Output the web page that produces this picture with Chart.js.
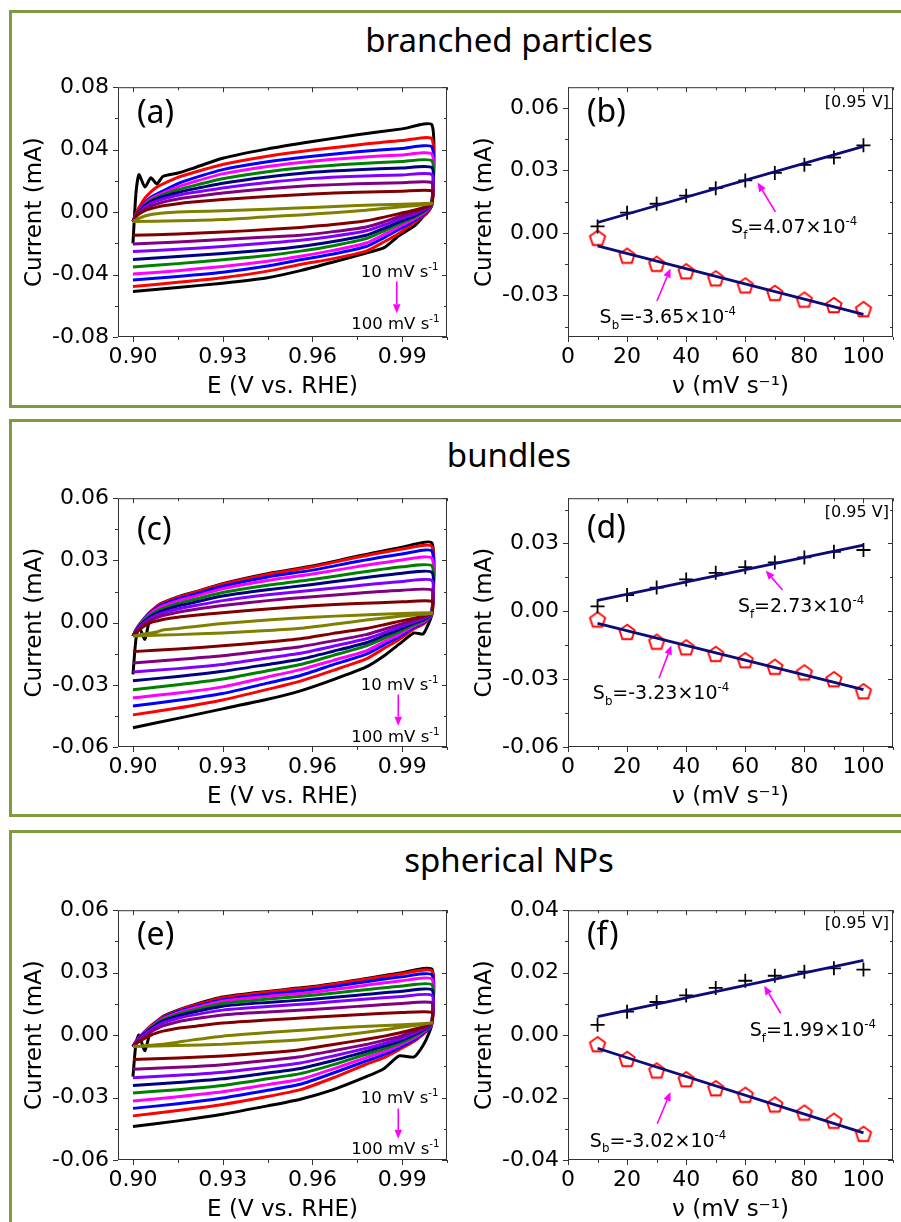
<!DOCTYPE html>
<html>
<head>
<meta charset="utf-8">
<script src="https://cdn.jsdelivr.net/npm/chart.js@4.4.0/dist/chart.umd.min.js"></script>
<style>
  html, body { margin: 0; padding: 0; background: #fff; width: 901px; height: 1222px; overflow: hidden; position: relative; }
  .box { position: absolute; border: 3px solid #7f9b3f; box-sizing: border-box; }
  .ttl { position: absolute; left: 309px; width: 400px; text-align: center; font-family: "Comic Sans MS", "Noto Sans", sans-serif; font-size: 33px; line-height: 33px; color: #000; }
  canvas { position: absolute; }
</style>
</head>
<body>
<div class="box" style="left:9px;top:10px;width:905px;height:398px"></div>
<div class="box" style="left:9px;top:419px;width:905px;height:398px"></div>
<div class="box" style="left:9px;top:830px;width:905px;height:420px"></div>
<div class="ttl" style="top:23px">branched particles</div>
<div class="ttl" style="top:438px">bundles</div>
<div class="ttl" style="top:843px">spherical NPs</div>
<canvas id="ca" width="439" height="336" style="left:13px;top:65px"></canvas>
<canvas id="cb" width="440" height="336" style="left:462px;top:65px"></canvas>
<canvas id="cc" width="439" height="335" style="left:13px;top:476px"></canvas>
<canvas id="cd" width="440" height="335" style="left:462px;top:476px"></canvas>
<canvas id="ce" width="439" height="336" style="left:13px;top:888px"></canvas>
<canvas id="cf" width="440" height="336" style="left:462px;top:888px"></canvas>
<script>
(() => {
  // ---- data (currents in mA) ----
  const rates = [10, 20, 30, 40, 50, 60, 70, 80, 90, 100];
  const rateColors = ["#808000", "#800000", "#800080", "#8000ff", "#000080", "#008000", "#ff00ff", "#0000ff", "#ff0000", "#000000"];

  const anodicE = [0.900, 0.901, 0.902, 0.904, 0.906, 0.908, 0.910, 0.915, 0.920, 0.930, 0.945, 0.960, 0.975, 0.990, 1.000];
  const cathodicE = [1.000, 0.999, 0.997, 0.994, 0.989, 0.984, 0.978, 0.967, 0.956, 0.945, 0.930, 0.915, 0.900];

  const aAnodic = [
    [-0.0060, -0.0050, -0.0040, -0.0025, -0.0015, -0.0010, -0.0006, 0.0000, 0.0004, 0.0008, 0.0018, 0.0030, 0.0042, 0.0051, 0.0056],
    [-0.0060, -0.0030, -0.0012, 0.0010, 0.0022, 0.0032, 0.0040, 0.0054, 0.0064, 0.0080, 0.0100, 0.0116, 0.0127, 0.0134, 0.0136],
    [-0.0060, -0.0028, -0.0008, 0.0020, 0.0040, 0.0053, 0.0064, 0.0084, 0.0098, 0.0123, 0.0150, 0.0170, 0.0181, 0.0188, 0.0188],
    [-0.0060, -0.0026, -0.0004, 0.0032, 0.0056, 0.0072, 0.0084, 0.0108, 0.0125, 0.0155, 0.0190, 0.0216, 0.0230, 0.0238, 0.0240],
    [-0.0060, -0.0024, 0.0000, 0.0040, 0.0068, 0.0085, 0.0098, 0.0126, 0.0147, 0.0185, 0.0225, 0.0255, 0.0272, 0.0282, 0.0284],
    [-0.0060, -0.0022, 0.0003, 0.0046, 0.0076, 0.0095, 0.0110, 0.0143, 0.0168, 0.0213, 0.0258, 0.0290, 0.0310, 0.0324, 0.0328],
    [-0.0060, -0.0020, 0.0006, 0.0052, 0.0085, 0.0105, 0.0122, 0.0162, 0.0192, 0.0245, 0.0292, 0.0326, 0.0350, 0.0366, 0.0370],
    [-0.0060, -0.0018, 0.0009, 0.0060, 0.0095, 0.0116, 0.0135, 0.0182, 0.0216, 0.0272, 0.0322, 0.0358, 0.0386, 0.0408, 0.0416],
    [-0.0060, -0.0010, 0.0030, 0.0090, 0.0130, 0.0160, 0.0180, 0.0222, 0.0252, 0.0305, 0.0358, 0.0398, 0.0430, 0.0458, 0.0468],
    [-0.0200, 0.0120, 0.0240, 0.0160, 0.0220, 0.0180, 0.0228, 0.0250, 0.0280, 0.0345, 0.0405, 0.0452, 0.0495, 0.0533, 0.0558],
  ];
  const aCathodic = [
    [0.0055, 0.0052, 0.0047, 0.0041, 0.0033, 0.0024, 0.0012, -0.0004, -0.0018, -0.0030, -0.0048, -0.0056, -0.0061],
    [0.0055, 0.0042, 0.0028, 0.0012, -0.0010, -0.0032, -0.0055, -0.0080, -0.0098, -0.0112, -0.0128, -0.0140, -0.0149],
    [0.0055, 0.0038, 0.0020, -0.0002, -0.0028, -0.0062, -0.0095, -0.0125, -0.0148, -0.0160, -0.0175, -0.0192, -0.0205],
    [0.0055, 0.0034, 0.0012, -0.0014, -0.0045, -0.0082, -0.0120, -0.0155, -0.0180, -0.0198, -0.0220, -0.0238, -0.0253],
    [0.0055, 0.0030, 0.0005, -0.0025, -0.0062, -0.0103, -0.0148, -0.0188, -0.0220, -0.0242, -0.0265, -0.0285, -0.0303],
    [0.0055, 0.0026, -0.0002, -0.0034, -0.0075, -0.0120, -0.0170, -0.0215, -0.0250, -0.0278, -0.0305, -0.0330, -0.0351],
    [0.0055, 0.0022, -0.0010, -0.0044, -0.0092, -0.0142, -0.0198, -0.0245, -0.0283, -0.0315, -0.0348, -0.0375, -0.0397],
    [0.0055, 0.0018, -0.0018, -0.0055, -0.0110, -0.0163, -0.0220, -0.0268, -0.0305, -0.0345, -0.0385, -0.0412, -0.0435],
    [0.0055, 0.0014, -0.0026, -0.0068, -0.0135, -0.0190, -0.0250, -0.0298, -0.0335, -0.0378, -0.0420, -0.0450, -0.0477],
    [0.0050, 0.0010, -0.0030, -0.0090, -0.0150, -0.0228, -0.0262, -0.0320, -0.0375, -0.0420, -0.0455, -0.0483, -0.0508],
  ];

  const cAnodic = [
    [-0.0065, -0.0062, -0.0060, -0.0055, -0.0050, -0.0045, -0.0036, -0.0028, -0.0020, -0.0004, 0.0012, 0.0026, 0.0036, 0.0044, 0.0047],
    [-0.0065, -0.0050, -0.0036, -0.0015, 0.0000, 0.0008, 0.0015, 0.0026, 0.0034, 0.0048, 0.0066, 0.0081, 0.0092, 0.0100, 0.0102],
    [-0.0065, -0.0045, -0.0030, -0.0005, 0.0012, 0.0024, 0.0034, 0.0050, 0.0062, 0.0082, 0.0106, 0.0125, 0.0142, 0.0156, 0.0156],
    [-0.0065, -0.0042, -0.0025, 0.0002, 0.0022, 0.0036, 0.0047, 0.0066, 0.0080, 0.0106, 0.0134, 0.0156, 0.0178, 0.0198, 0.0203],
    [-0.0065, -0.0040, -0.0021, 0.0008, 0.0030, 0.0046, 0.0058, 0.0080, 0.0096, 0.0128, 0.0158, 0.0184, 0.0212, 0.0238, 0.0242],
    [-0.0065, -0.0038, -0.0018, 0.0013, 0.0038, 0.0055, 0.0068, 0.0092, 0.0110, 0.0145, 0.0180, 0.0208, 0.0240, 0.0269, 0.0273],
    [-0.0065, -0.0037, -0.0016, 0.0018, 0.0045, 0.0065, 0.0080, 0.0105, 0.0124, 0.0163, 0.0203, 0.0234, 0.0270, 0.0302, 0.0310],
    [-0.0065, -0.0036, -0.0014, 0.0022, 0.0050, 0.0072, 0.0088, 0.0114, 0.0134, 0.0175, 0.0220, 0.0253, 0.0295, 0.0331, 0.0344],
    [-0.0065, -0.0035, -0.0012, 0.0025, 0.0055, 0.0078, 0.0095, 0.0122, 0.0143, 0.0185, 0.0232, 0.0269, 0.0315, 0.0355, 0.0367],
    [-0.0250, -0.0080, -0.0020, -0.0080, 0.0045, 0.0078, 0.0096, 0.0124, 0.0145, 0.0188, 0.0236, 0.0273, 0.0320, 0.0364, 0.0383],
  ];
  const cCathodic = [
    [0.0045, 0.0043, 0.0040, 0.0037, 0.0030, 0.0022, 0.0012, -0.0008, -0.0027, -0.0038, -0.0050, -0.0058, -0.0065],
    [0.0045, 0.0040, 0.0032, 0.0021, 0.0006, -0.0010, -0.0028, -0.0052, -0.0078, -0.0094, -0.0112, -0.0127, -0.0140],
    [0.0045, 0.0036, 0.0025, 0.0012, -0.0010, -0.0032, -0.0058, -0.0088, -0.0116, -0.0135, -0.0160, -0.0178, -0.0195],
    [0.0045, 0.0033, 0.0019, 0.0004, -0.0022, -0.0048, -0.0078, -0.0114, -0.0148, -0.0171, -0.0202, -0.0222, -0.0238],
    [0.0045, 0.0030, 0.0013, -0.0003, -0.0034, -0.0062, -0.0097, -0.0138, -0.0177, -0.0202, -0.0235, -0.0260, -0.0280],
    [0.0045, 0.0027, 0.0008, -0.0010, -0.0045, -0.0076, -0.0112, -0.0158, -0.0202, -0.0232, -0.0272, -0.0300, -0.0324],
    [0.0045, 0.0024, 0.0003, -0.0016, -0.0057, -0.0092, -0.0136, -0.0182, -0.0227, -0.0262, -0.0310, -0.0340, -0.0363],
    [0.0045, 0.0021, -0.0002, -0.0022, -0.0068, -0.0106, -0.0152, -0.0203, -0.0255, -0.0292, -0.0342, -0.0375, -0.0402],
    [0.0045, 0.0018, -0.0008, -0.0030, -0.0081, -0.0124, -0.0175, -0.0230, -0.0282, -0.0322, -0.0373, -0.0412, -0.0445],
    [0.0045, 0.0000, -0.0055, -0.0050, -0.0104, -0.0160, -0.0214, -0.0275, -0.0329, -0.0370, -0.0416, -0.0462, -0.0507],
  ];

  const eAnodic = [
    [-0.0055, -0.0054, -0.0053, -0.0051, -0.0049, -0.0046, -0.0044, -0.0034, -0.0023, -0.0005, 0.0012, 0.0027, 0.0040, 0.0050, 0.0058],
    [-0.0055, -0.0042, -0.0032, -0.0015, 0.0000, 0.0011, 0.0019, 0.0033, 0.0041, 0.0058, 0.0072, 0.0086, 0.0098, 0.0108, 0.0109],
    [-0.0055, -0.0038, -0.0026, -0.0004, 0.0015, 0.0031, 0.0044, 0.0064, 0.0077, 0.0097, 0.0111, 0.0123, 0.0138, 0.0152, 0.0155],
    [-0.0055, -0.0036, -0.0022, 0.0003, 0.0025, 0.0043, 0.0058, 0.0081, 0.0096, 0.0120, 0.0137, 0.0152, 0.0170, 0.0186, 0.0191],
    [-0.0055, -0.0034, -0.0019, 0.0008, 0.0031, 0.0051, 0.0067, 0.0092, 0.0110, 0.0139, 0.0157, 0.0172, 0.0192, 0.0211, 0.0217],
    [-0.0055, -0.0033, -0.0017, 0.0011, 0.0036, 0.0057, 0.0074, 0.0101, 0.0120, 0.0152, 0.0173, 0.0191, 0.0214, 0.0236, 0.0242],
    [-0.0055, -0.0032, -0.0015, 0.0013, 0.0039, 0.0061, 0.0079, 0.0107, 0.0128, 0.0163, 0.0186, 0.0206, 0.0234, 0.0261, 0.0269],
    [-0.0055, -0.0031, -0.0014, 0.0015, 0.0041, 0.0064, 0.0082, 0.0112, 0.0134, 0.0170, 0.0196, 0.0219, 0.0250, 0.0280, 0.0289],
    [-0.0055, -0.0030, -0.0012, 0.0018, 0.0045, 0.0068, 0.0086, 0.0118, 0.0141, 0.0180, 0.0207, 0.0230, 0.0262, 0.0295, 0.0308],
    [-0.0200, -0.0040, 0.0000, -0.0075, 0.0030, 0.0062, 0.0089, 0.0120, 0.0144, 0.0183, 0.0210, 0.0233, 0.0265, 0.0300, 0.0316],
  ];
  const eCathodic = [
    [0.0060, 0.0057, 0.0052, 0.0046, 0.0036, 0.0026, 0.0014, -0.0005, -0.0022, -0.0032, -0.0044, -0.0050, -0.0055],
    [0.0060, 0.0050, 0.0040, 0.0028, 0.0010, -0.0005, -0.0020, -0.0045, -0.0070, -0.0085, -0.0100, -0.0110, -0.0117],
    [0.0060, 0.0047, 0.0034, 0.0018, -0.0008, -0.0025, -0.0045, -0.0075, -0.0104, -0.0122, -0.0142, -0.0155, -0.0164],
    [0.0060, 0.0044, 0.0029, 0.0010, -0.0020, -0.0040, -0.0063, -0.0100, -0.0134, -0.0154, -0.0178, -0.0193, -0.0205],
    [0.0060, 0.0041, 0.0024, 0.0002, -0.0030, -0.0053, -0.0078, -0.0122, -0.0160, -0.0182, -0.0210, -0.0228, -0.0242],
    [0.0060, 0.0038, 0.0019, -0.0006, -0.0040, -0.0066, -0.0092, -0.0142, -0.0185, -0.0210, -0.0242, -0.0262, -0.0278],
    [0.0060, 0.0035, 0.0014, -0.0014, -0.0050, -0.0080, -0.0108, -0.0162, -0.0212, -0.0238, -0.0272, -0.0296, -0.0317],
    [0.0060, 0.0032, 0.0009, -0.0022, -0.0060, -0.0093, -0.0124, -0.0182, -0.0236, -0.0265, -0.0302, -0.0330, -0.0352],
    [0.0060, 0.0029, 0.0004, -0.0030, -0.0070, -0.0108, -0.0140, -0.0205, -0.0262, -0.0295, -0.0333, -0.0362, -0.0388],
    [0.0060, 0.0010, -0.0050, -0.0105, -0.0100, -0.0160, -0.0200, -0.0262, -0.0308, -0.0340, -0.0380, -0.0412, -0.0439],
  ];

  const nu = [10, 20, 30, 40, 50, 60, 70, 80, 90, 100];
  const fitNu = [10, 100];
  const bForward = [0.0031, 0.0097, 0.0140, 0.0179, 0.0215, 0.0252, 0.0288, 0.0327, 0.0362, 0.0421];
  const bBackward = [-0.0023, -0.0109, -0.0148, -0.0184, -0.0218, -0.0252, -0.0288, -0.0320, -0.0346, -0.0366];
  const bFitF = [0.0050, 0.0416];
  const bFitB = [-0.0062, -0.0391];
  const dForward = [0.0022, 0.0072, 0.0105, 0.0141, 0.0170, 0.0195, 0.0216, 0.0238, 0.0263, 0.0271];
  const dBackward = [-0.0036, -0.0091, -0.0134, -0.0159, -0.0188, -0.0216, -0.0245, -0.0270, -0.0300, -0.0353];
  const dFitF = [0.0048, 0.0293];
  const dFitB = [-0.0053, -0.0346];
  const fForward = [0.0033, 0.0075, 0.0106, 0.0127, 0.0151, 0.0174, 0.0190, 0.0203, 0.0214, 0.0210];
  const fBackward = [-0.0029, -0.0076, -0.0113, -0.0141, -0.0170, -0.0191, -0.0222, -0.0248, -0.0274, -0.0316];
  const fFitF = [0.0059, 0.0239];
  const fFitB = [-0.0042, -0.0313];

  const cvTicksX = [0.90, 0.93, 0.96, 0.99];
  const nuTicks = [0, 20, 40, 60, 80, 100];
  const aTicksY = [-0.08, -0.04, 0.00, 0.04, 0.08];
  const bTicksY = [-0.03, 0.00, 0.03, 0.06];
  const cTicksY = [-0.06, -0.03, 0.00, 0.03, 0.06];
  const dTicksY = [-0.06, -0.03, 0.00, 0.03];
  const eTicksY = [-0.06, -0.03, 0.00, 0.03, 0.06];
  const fTicksY = [-0.04, -0.02, 0.00, 0.02, 0.04];

  // ---- drawing helpers ----
  const FONT = '"DejaVu Sans", "Liberation Sans", sans-serif';
  const HAND = '"Comic Sans MS", "Noto Sans", sans-serif';
  const MAGENTA = "#ff00ff";

  const pentagon = document.createElement("canvas");
  pentagon.width = 20;
  pentagon.height = 20;
  (() => {
    const g = pentagon.getContext("2d");
    g.strokeStyle = "#ff0000";
    g.lineWidth = 1.9;
    g.beginPath();
    for (let k = 0; k < 5; k++) {
      const t = -Math.PI / 2 + (k * 2 * Math.PI) / 5;
      const px = 10 + 8 * Math.cos(t), py = 10.8 + 8 * Math.sin(t);
      k ? g.lineTo(px, py) : g.moveTo(px, py);
    }
    g.closePath();
    g.stroke();
  })();

  function richParts(s) {
    const parts = [];
    const re = /([_^])\{([^}]*)\}/g;
    let last = 0, m;
    while ((m = re.exec(s))) {
      if (m.index > last) parts.push({ t: s.slice(last, m.index), k: 0 });
      parts.push({ t: m[2], k: m[1] === "_" ? -1 : 1 });
      last = re.lastIndex;
    }
    if (last < s.length) parts.push({ t: s.slice(last), k: 0 });
    return parts;
  }

  function drawRich(ctx, s, x, y, size) {
    ctx.textAlign = "left";
    ctx.textBaseline = "alphabetic";
    for (const p of richParts(s)) {
      const fs = p.k ? size * 0.62 : size;
      ctx.font = `${fs}px ${FONT}`;
      const dy = p.k === 1 ? -size * 0.42 : p.k === -1 ? size * 0.3 : 0;
      ctx.fillText(p.t, x, y + dy);
      x += ctx.measureText(p.t).width;
    }
  }

  function drawArrow(ctx, x1, y1, x2, y2) {
    const ang = Math.atan2(y2 - y1, x2 - x1);
    const len = 9, hw = 3.8;
    const bx = x2 - len * Math.cos(ang), by = y2 - len * Math.sin(ang);
    ctx.strokeStyle = MAGENTA;
    ctx.fillStyle = MAGENTA;
    ctx.lineWidth = 1.6;
    ctx.beginPath();
    ctx.moveTo(x1, y1);
    ctx.lineTo(bx, by);
    ctx.stroke();
    ctx.beginPath();
    ctx.moveTo(x2, y2);
    ctx.lineTo(bx + hw * Math.sin(ang), by - hw * Math.cos(ang));
    ctx.lineTo(bx - hw * Math.sin(ang), by + hw * Math.cos(ang));
    ctx.closePath();
    ctx.fill();
  }

  function near(list, v, step) {
    return list.some((t) => Math.abs(t - v) < step / 100);
  }

  function decor(cfg) {
    return {
      id: "decor",
      afterDatasetsDraw(chart) {
        const { ctx, chartArea: a, scales } = chart;
        const sx = scales.x, sy = scales.y;
        ctx.save();
        ctx.strokeStyle = "#333";
        ctx.lineWidth = 1;
        ctx.strokeRect(a.left + 0.5, a.top + 0.5, a.right - a.left - 1, a.bottom - a.top - 1);

        ctx.beginPath();
        for (let v = Math.ceil(sx.min / cfg.xMinor - 1e-6) * cfg.xMinor; v <= sx.max + 1e-9; v += cfg.xMinor) {
          const px = Math.round(sx.getPixelForValue(v)) + 0.5;
          const l = near(cfg.xTicks, v, cfg.xMinor) ? 5 : 3;
          ctx.moveTo(px, a.bottom); ctx.lineTo(px, a.bottom + l);
          ctx.moveTo(px, a.top); ctx.lineTo(px, a.top + l);
        }
        for (let v = Math.ceil(sy.min / cfg.yMinor - 1e-6) * cfg.yMinor; v <= sy.max + 1e-9; v += cfg.yMinor) {
          const py = Math.round(sy.getPixelForValue(v)) + 0.5;
          const l = near(cfg.yTicks, v, cfg.yMinor) ? 5 : 3;
          ctx.moveTo(a.left - l, py); ctx.lineTo(a.left, py);
          ctx.moveTo(a.right - l, py); ctx.lineTo(a.right, py);
        }
        ctx.stroke();

        ctx.fillStyle = "#000";
        ctx.font = `32px ${HAND}`;
        ctx.textAlign = "left";
        ctx.textBaseline = "middle";
        ctx.fillText(cfg.label, a.left + 19, a.top + cfg.labelDy);

        if (cfg.note) {
          ctx.font = `16px ${FONT}`;
          ctx.textAlign = "right";
          ctx.fillText(cfg.note, a.right - 4, a.top + cfg.noteDy);
        }

        for (const t of cfg.texts || []) {
          ctx.fillStyle = "#000";
          drawRich(ctx, t.s, sx.getPixelForValue(t.x), sy.getPixelForValue(t.y), t.size);
        }
        for (const r of cfg.arrows || []) {
          drawArrow(ctx, sx.getPixelForValue(r[0]), sy.getPixelForValue(r[1]), sx.getPixelForValue(r[2]), sy.getPixelForValue(r[3]));
        }
        ctx.restore();
      },
    };
  }

  function axes(xr, xt, xFmt, xTitle, yr, yt, yTitle) {
    const tickFont = { family: FONT, size: 22 };
    const titleFont = { family: FONT, size: 23 };
    return {
      x: {
        type: "linear", min: xr[0], max: xr[1],
        afterBuildTicks: (s) => { s.ticks = xt.map((v) => ({ value: v })); },
        afterFit: (s) => { s.height = 64; },
        grid: { display: false, drawTicks: false },
        border: { display: false },
        ticks: { font: tickFont, color: "#000", padding: 7, maxRotation: 0, autoSkip: false, callback: xFmt },
        title: { display: true, text: xTitle, font: titleFont, color: "#000", padding: { top: 0, bottom: 0 } },
      },
      y: {
        type: "linear", min: yr[0], max: yr[1],
        afterBuildTicks: (s) => { s.ticks = yt.map((v) => ({ value: v })); },
        afterFit: (s) => { s.width = yr[2]; },
        grid: { display: false, drawTicks: false },
        border: { display: false },
        ticks: { font: tickFont, color: "#000", padding: 9, autoSkip: false, callback: (v) => v.toFixed(2) },
        title: { display: true, text: yTitle, font: titleFont, color: "#000", padding: { top: yr[3], bottom: 0 } },
      },
    };
  }

  function cvDatasets(anodic, cathodic) {
    return rates.map((r, i) => ({
      label: `${r} mV s-1`,
      data: anodicE.map((x, k) => ({ x, y: anodic[i][k] })).concat(cathodicE.map((x, k) => ({ x, y: cathodic[i][k] }))),
      borderColor: rateColors[i],
      borderWidth: 3,
      pointRadius: 0,
      showLine: true,
      tension: 0.2,
      fill: false,
    }));
  }

  function rateDatasets(fwd, bwd, fitF, fitB) {
    const fit = (vals) => ({
      data: fitNu.map((x, k) => ({ x, y: vals[k] })),
      showLine: true, pointRadius: 0, borderColor: "#0c0c78", borderWidth: 2.8,
    });
    return [
      fit(fitF),
      fit(fitB),
      { data: nu.map((x, k) => ({ x, y: fwd[k] })), pointStyle: "cross", pointRadius: 7, borderColor: "#000", borderWidth: 1.8, showLine: false },
      { data: nu.map((x, k) => ({ x, y: bwd[k] })), pointStyle: pentagon, pointRadius: 8, showLine: false },
    ];
  }

  function makeChart(id, datasets, scales, pad, deco) {
    return new Chart(document.getElementById(id), {
      type: "scatter",
      data: { datasets },
      options: {
        responsive: false,
        animation: false,
        devicePixelRatio: 1,
        layout: { padding: pad },
        plugins: { legend: { display: false }, tooltip: { enabled: false } },
        scales,
      },
      plugins: [deco],
    });
  }

  const cvRange = [0.895, 1.005];
  const nuRange = [0, 110];
  const fmt2 = (v) => v.toFixed(2);
  const fmt0 = (v) => String(v);
  const eTitle = "E (V vs. RHE)";
  const iTitle = "Current (mA)";
  const nuTitle = "\u03bd (mV s\u207b\u00b9)";
  const padL = { left: 0, right: 5, top: 16, bottom: 0 };
  const padR = { left: 0, right: 5, top: 16, bottom: 0 };
  const scanText = (y10, y100) => [
    { s: "10 mV s^{-1}", x: 0.9762, y: y10, size: 16.5 },
    { s: "100 mV s^{-1}", x: 0.9730, y: y100, size: 16.5 },
  ];

  makeChart("ca", cvDatasets(aAnodic, aCathodic),
    axes(cvRange, cvTicksX, fmt2, eTitle, [-0.08, 0.08, 105, 8], aTicksY, iTitle), padL,
    decor({ label: "(a)", labelDy: 27, xTicks: cvTicksX, xMinor: 0.015, yTicks: aTicksY, yMinor: 0.02,
      texts: scanText(-0.0417, -0.0750), arrows: [[0.9882, -0.0444, 0.9882, -0.0648]] }));

  makeChart("cb", rateDatasets(bForward, bBackward, bFitF, bFitB),
    axes(nuRange, nuTicks, fmt0, nuTitle, [-0.05, 0.07, 106, 9], bTicksY, iTitle), padR,
    decor({ label: "(b)", labelDy: 26, note: "[0.95 V]", noteDy: 16, xTicks: nuTicks, xMinor: 10, yTicks: bTicksY, yMinor: 0.015,
      texts: [{ s: "S_{f}=4.07\u00d710^{-4}", x: 55.2, y: 0.0, size: 19 }, { s: "S_{b}=-3.65\u00d710^{-4}", x: 10.7, y: -0.0435, size: 19 }],
      arrows: [[70.2, 0.0101, 64.2, 0.0242], [30.1, -0.0327, 34.7, -0.0171]] }));

  makeChart("cc", cvDatasets(cAnodic, cCathodic),
    axes(cvRange, cvTicksX, fmt2, eTitle, [-0.06, 0.06, 105, 8], cTicksY, iTitle), padL,
    decor({ label: "(c)", labelDy: 33, xTicks: cvTicksX, xMinor: 0.015, yTicks: cTicksY, yMinor: 0.015,
      texts: scanText(-0.0324, -0.0575), arrows: [[0.9887, -0.0347, 0.9887, -0.0497]] }));

  makeChart("cd", rateDatasets(dForward, dBackward, dFitF, dFitB),
    axes(nuRange, nuTicks, fmt0, nuTitle, [-0.06, 0.05, 106, 9], dTicksY, iTitle), padR,
    decor({ label: "(d)", labelDy: 31, note: "[0.95 V]", noteDy: 15, xTicks: nuTicks, xMinor: 10, yTicks: dTicksY, yMinor: 0.015,
      texts: [{ s: "S_{f}=2.73\u00d710^{-4}", x: 57.5, y: -0.0004, size: 19 }, { s: "S_{b}=-3.23\u00d710^{-4}", x: 8.4, y: -0.0389, size: 19 }],
      arrows: [[72.6, 0.0094, 66.9, 0.0180], [30.8, -0.0296, 35.0, -0.0151]] }));

  makeChart("ce", cvDatasets(eAnodic, eCathodic),
    axes(cvRange, cvTicksX, fmt2, eTitle, [-0.06, 0.06, 105, 8], eTicksY, iTitle), padL,
    decor({ label: "(e)", labelDy: 26, xTicks: cvTicksX, xMinor: 0.015, yTicks: eTicksY, yMinor: 0.015,
      texts: scanText(-0.0327, -0.0572), arrows: [[0.9887, -0.0353, 0.9887, -0.0498]] }));

  makeChart("cf", rateDatasets(fForward, fBackward, fFitF, fFitB),
    axes(nuRange, nuTicks, fmt0, nuTitle, [-0.04, 0.04, 106, 9], fTicksY, iTitle), padR,
    decor({ label: "(f)", labelDy: 26, note: "[0.95 V]", noteDy: 14, xTicks: nuTicks, xMinor: 10, yTicks: fTicksY, yMinor: 0.01,
      texts: [{ s: "S_{f}=1.99\u00d710^{-4}", x: 61.5, y: -0.0003, size: 19 }, { s: "S_{b}=-3.02\u00d710^{-4}", x: 7.4, y: -0.0357, size: 19 }],
      arrows: [[72.0, 0.0070, 66.4, 0.0158], [30.2, -0.0284, 34.7, -0.0182]] }));
})();
</script>
</body>
</html>
